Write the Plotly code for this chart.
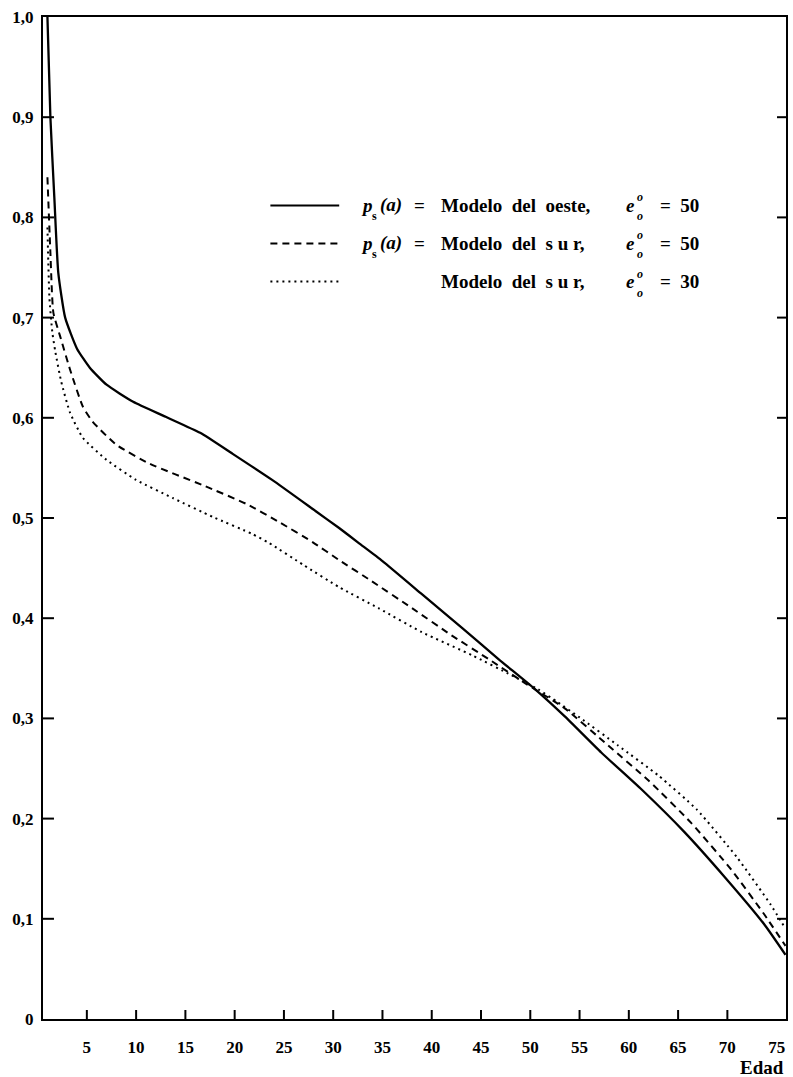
import plotly.graph_objects as go

# Edad (años) y proporción p(a) para cada modelo
edad_oeste50 = [1.0, 1.3, 1.7, 2.1, 2.8, 4.0, 5.3, 7.0, 9.7, 13.0, 16.5, 19.8, 23.8, 28.2,
                30.6, 32.6, 35.0, 39.0, 43.1, 46.8, 50.5, 53.5, 57.2, 61.3, 65.6, 69.7, 73.7, 75.9]
p_oeste50 = [1.0, 0.90, 0.82, 0.745, 0.70, 0.669, 0.650, 0.633, 0.616, 0.601, 0.585, 0.564, 0.538, 0.507,
             0.490, 0.475, 0.457, 0.424, 0.390, 0.359, 0.329, 0.302, 0.266, 0.229, 0.187, 0.142, 0.095, 0.064]

edad_sur50 = [1.0, 1.3, 1.6, 2.3, 3.3, 4.6, 5.6, 8.0, 11.4, 16.7, 21.2, 24.5, 27.9, 30.6, 33.9,
              38.0, 42.0, 45.8, 49.5, 53.5, 57.9, 62.0, 66.3, 70.4, 73.7, 75.9]
p_sur50 = [0.84, 0.765, 0.705, 0.681, 0.648, 0.611, 0.596, 0.573, 0.554, 0.533, 0.514, 0.496, 0.476, 0.458, 0.437,
           0.410, 0.383, 0.359, 0.335, 0.310, 0.273, 0.238, 0.196, 0.149, 0.105, 0.073]

edad_sur30 = [1.0, 1.2, 1.5, 1.8, 2.4, 3.3, 4.6, 7.0, 10.0, 13.7, 17.8, 21.8, 23.5, 27.0, 30.6, 34.6,
              39.0, 44.1, 48.1, 50.8, 52.8, 55.0, 58.9, 63.0, 66.9, 71.0, 74.4, 75.9]
p_sur30 = [0.79, 0.72, 0.685, 0.666, 0.636, 0.605, 0.580, 0.558, 0.538, 0.520, 0.501, 0.484, 0.475, 0.453, 0.431, 0.410,
           0.386, 0.363, 0.343, 0.329, 0.316, 0.301, 0.273, 0.243, 0.209, 0.161, 0.114, 0.090]

x_ticks = [5, 10, 15, 20, 25, 30, 35, 40, 45, 50, 55, 60, 65, 70, 75]
y_ticks = [0, 0.1, 0.2, 0.3, 0.4, 0.5, 0.6, 0.7, 0.8, 0.9, 1.0]
y_labels = ["0", "0,1", "0,2", "0,3", "0,4", "0,5", "0,6", "0,7", "0,8", "0,9", "1,0"]

FONT = "Liberation Serif"
W, H = 793, 1077
L, R, T, B = 43, 5, 17, 58
PW, PH = W - L - R, H - T - B
XR = [0.55, 75.95]
YR = [0, 1.0]
CLEAR = "rgba(0,0,0,0)"


def px(xpix):
    """Horizontal pixel position -> paper fraction."""
    return (xpix - L) / PW


fig = go.Figure()

fig.add_trace(go.Scatter(x=edad_oeste50, y=p_oeste50, mode="lines",
                         line=dict(color="black", width=2.3, shape="spline", smoothing=0.5),
                         showlegend=False, hoverinfo="skip"))
fig.add_trace(go.Scatter(x=edad_sur50, y=p_sur50, mode="lines",
                         line=dict(color="black", width=2.0, dash="7px,5px", shape="spline", smoothing=0.5),
                         showlegend=False, hoverinfo="skip"))
fig.add_trace(go.Scatter(x=edad_sur30, y=p_sur30, mode="lines",
                         line=dict(color="black", width=2.0, dash="2px,4px", shape="spline", smoothing=0.5),
                         showlegend=False, hoverinfo="skip"))

lab_font = dict(family=FONT, size=17, color="black", weight="bold")

fig.update_layout(
    width=W, height=H,
    margin=dict(l=L, r=R, t=T, b=B, pad=0),
    paper_bgcolor="white", plot_bgcolor="white",
    xaxis=dict(range=XR, showgrid=False, zeroline=False,
               showline=True, linecolor="black", linewidth=2, mirror=True,
               ticks="outside", ticklen=12, tickcolor=CLEAR,
               tickvals=x_ticks, ticktext=[str(v) for v in x_ticks], tickfont=lab_font),
    yaxis=dict(range=YR, showgrid=False, zeroline=False,
               showline=True, linecolor="black", linewidth=2, mirror=True,
               ticks="outside", ticklen=4, tickcolor=CLEAR,
               tickvals=y_ticks, ticktext=y_labels, tickfont=lab_font),
)

# Inner tick marks along the frame (bottom, left and right)
tick_line = dict(color="black", width=2)
for v in x_ticks[:-1]:
    fig.add_shape(type="line", xref="x", yref="y domain", x0=v, x1=v, y0=0, y1=9 / PH, line=tick_line)
for v in y_ticks[1:-1]:
    fig.add_shape(type="line", xref="x domain", yref="y", x0=0, x1=11 / PW, y0=v, y1=v, line=tick_line)
    fig.add_shape(type="line", xref="x domain", yref="y", x0=1, x1=1 - 9 / PW, y0=v, y1=v, line=tick_line)

# Legend samples
rows_y = [0.812, 0.774, 0.736]
dashes = ["solid", "7px,5px", "2px,4px"]
for yy, dd in zip(rows_y, dashes):
    fig.add_shape(type="line", xref="paper", yref="y", x0=px(271), x1=px(340), y0=yy, y1=yy,
                  line=dict(color="black", width=2, dash=dd))

tf = dict(family=FONT, size=19, color="black")
small = dict(family=FONT, size=12, color="black")


def note(text, xpix, yy, font=tf, anchor="left", yshift=0):
    fig.add_annotation(text=text, xref="paper", yref="y", x=px(xpix), y=yy, xanchor=anchor,
                       yanchor="middle", showarrow=False, font=font, yshift=yshift)


legend_rows = [
    (True, "Modelo  del  oeste,", "50"),
    (True, "Modelo  del  s u r,", "50"),
    (False, "Modelo  del  s u r,", "30"),
]
for yy, (has_p, label, val) in zip(rows_y, legend_rows):
    if has_p:
        note("<b><i>p</i></b>", 360, yy)
        note("<b>s</b>", 371, yy, font=small, yshift=-11)
        note("<b><i>(a)</i></b>", 379, yy)
        note("<b>=</b>", 413, yy)
    note("<b>" + label + "</b>", 440, yy)
    note("<b><i>e</i></b>", 626, yy)
    note("<b><i>o</i></b>", 637, yy, font=small, yshift=8)
    note("<b><i>o</i></b>", 637, yy, font=small, yshift=-11)
    note("<b>=  " + val + "</b>", 660, yy)

fig.add_annotation(text="<b>Edad</b>", xref="paper", yref="paper", x=1.0, y=-48 / PH,
                   xanchor="right", yanchor="middle", showarrow=False,
                   font=dict(family=FONT, size=19, color="black"))

fig.write_html("out.html")
